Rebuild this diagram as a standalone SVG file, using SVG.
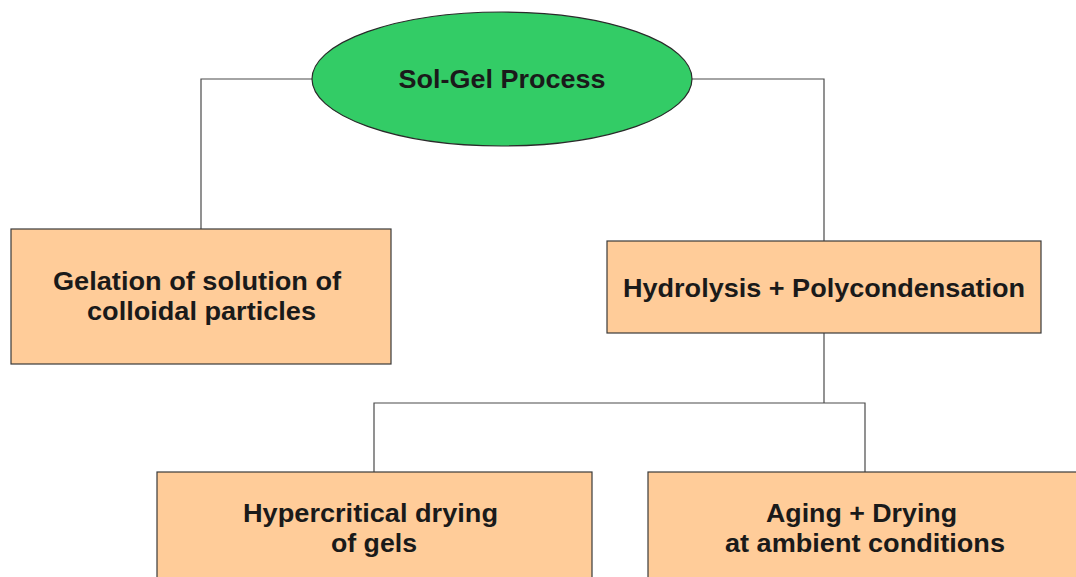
<svg xmlns="http://www.w3.org/2000/svg" width="1076" height="577" viewBox="0 0 1076 577">
<style>
.box{fill:#ffcc99;stroke:#3a3a3a;stroke-width:1.2}
.ell{fill:#33cc66;stroke:#2a2a2a;stroke-width:1.2}
.t{font-family:"Liberation Sans",Arial,sans-serif;font-weight:bold;font-size:25px;fill:#1a1a1a;text-anchor:middle}
.c{fill:none;stroke:#4a4a4a;stroke-width:1.2}
</style>
<rect width="1076" height="577" fill="#ffffff"/>
<g id="connectors">
<polyline class="c" points="312,79 201,79 201,229"/>
<polyline class="c" points="692,79 824,79 824,241"/>
<polyline class="c" points="824,333 824,403"/>
<polyline class="c" points="374,472 374,403 865,403 865,472"/>
</g>
<g id="sol-gel">
<ellipse class="ell" cx="502" cy="79" rx="190" ry="67"/>
<text class="t" x="502" y="88" textLength="207" lengthAdjust="spacingAndGlyphs">Sol-Gel Process</text>
</g>
<g id="gelation">
<rect class="box" x="11" y="229" width="380" height="135"/>
<text class="t" x="197" y="290" textLength="288" lengthAdjust="spacingAndGlyphs">Gelation of solution of</text>
<text class="t" x="201.5" y="320" textLength="229" lengthAdjust="spacingAndGlyphs">colloidal particles</text>
</g>
<g id="hydrolysis">
<rect class="box" x="607" y="241" width="434" height="92"/>
<text class="t" x="824" y="297" textLength="402" lengthAdjust="spacingAndGlyphs">Hydrolysis + Polycondensation</text>
</g>
<g id="hypercritical">
<rect class="box" x="157" y="472" width="435" height="120"/>
<text class="t" x="370.5" y="522" textLength="255" lengthAdjust="spacingAndGlyphs">Hypercritical drying</text>
<text class="t" x="374" y="552" textLength="86" lengthAdjust="spacingAndGlyphs">of gels</text>
</g>
<g id="aging">
<rect class="box" x="648" y="472" width="436" height="120"/>
<text class="t" x="861.5" y="522" textLength="191" lengthAdjust="spacingAndGlyphs">Aging + Drying</text>
<text class="t" x="865" y="552" textLength="280" lengthAdjust="spacingAndGlyphs">at ambient conditions</text>
</g>
</svg>
